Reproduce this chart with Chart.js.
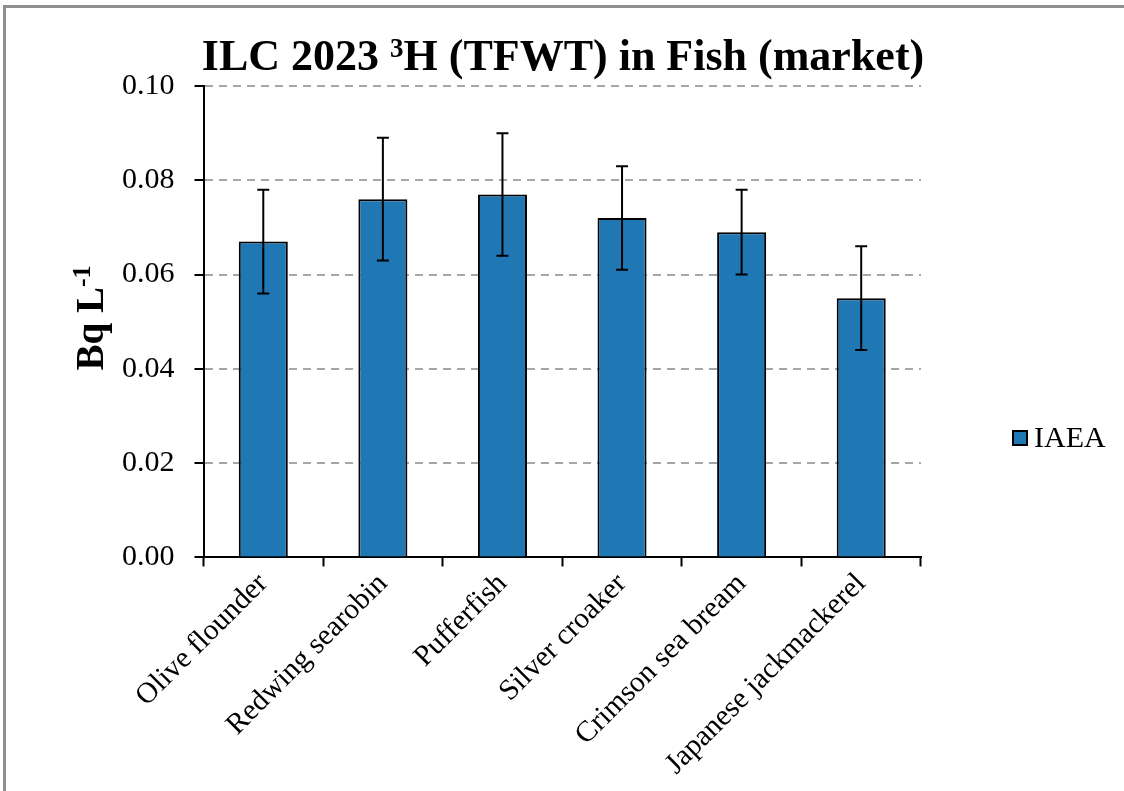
<!DOCTYPE html>
<html lang="en">
<head>
    <meta charset="UTF-8">
    <title>ILC 2023 3H (TFWT) in Fish (market)</title>
    <style>
        html, body {
            margin: 0;
            padding: 0;
            background: #fff;
            overflow: hidden;
        }
        .frame {
            position: absolute;
            left: 3px;
            top: 5px;
            width: 1200px;
            height: 900px;
            border: 3px solid #8f8f8f;
        }
        .chart-box {
            position: absolute;
            left: 0;
            top: 0;
            width: 1124px;
            height: 791px;
        }
    </style>
</head>
<body>
    <div class="frame"></div>
    <div class="chart-box">
        <canvas id="fishChart"></canvas>
    </div>
    <script src="https://cdn.jsdelivr.net/npm/chart.js"></script>
    <script>
        // data
        const categories = ['Olive flounder', 'Redwing searobin', 'Pufferfish', 'Silver croaker', 'Crimson sea bream', 'Japanese jackmackerel'];
        const iaeaValues = [0.067, 0.076, 0.077, 0.072, 0.069, 0.055];
        const iaeaErrors = [0.011, 0.013, 0.013, 0.011, 0.009, 0.011];
        const seriesName = 'IAEA';
        const yTicks = [0.00, 0.02, 0.04, 0.06, 0.08, 0.10];

        const serif = "'Liberation Serif', 'Times New Roman', serif";
        const barBlue = '#1F77B4';

        // error bars, drawn through the y scale
        const errorBars = {
            id: 'errorBars',
            afterDatasetsDraw(chart) {
                const ctx = chart.ctx;
                const yScale = chart.scales.y;
                const meta = chart.getDatasetMeta(0);
                ctx.save();
                ctx.strokeStyle = '#000';
                ctx.lineWidth = 2;
                meta.data.forEach((bar, i) => {
                    const x = bar.x;
                    const yHi = yScale.getPixelForValue(iaeaValues[i] + iaeaErrors[i]);
                    const yLo = yScale.getPixelForValue(iaeaValues[i] - iaeaErrors[i]);
                    ctx.beginPath();
                    ctx.moveTo(x, yHi);
                    ctx.lineTo(x, yLo);
                    ctx.moveTo(x - 6, yHi);
                    ctx.lineTo(x + 6, yHi);
                    ctx.moveTo(x - 6, yLo);
                    ctx.lineTo(x + 6, yLo);
                    ctx.stroke();
                });
                ctx.restore();
            }
        };

        // draws text pieces in a row, superscripts raised
        function drawPieces(ctx, pieces, startX, y) {
            let x = startX;
            pieces.forEach(p => {
                ctx.font = p.font;
                ctx.fillText(p.text, x, y - (p.rise || 0));
                x += ctx.measureText(p.text).width;
            });
        }
        function piecesWidth(ctx, pieces) {
            let w = 0;
            pieces.forEach(p => {
                ctx.font = p.font;
                w += ctx.measureText(p.text).width;
            });
            return w;
        }

        // title, y axis title with superscript, and the side legend
        const extraText = {
            id: 'extraText',
            afterDraw(chart) {
                const ctx = chart.ctx;
                const area = chart.chartArea;
                ctx.save();
                ctx.fillStyle = '#000';
                ctx.textAlign = 'left';
                ctx.textBaseline = 'alphabetic';

                // title
                const titlePieces = [
                    { text: 'ILC 2023 ', font: 'bold 44px ' + serif },
                    { text: '3', font: 'bold 27px ' + serif, rise: 13 },
                    { text: 'H (TFWT) in Fish (market)', font: 'bold 44px ' + serif }
                ];
                const tw = piecesWidth(ctx, titlePieces);
                drawPieces(ctx, titlePieces, 563 - tw / 2, 70);

                // y title
                ctx.translate(103, 318);
                ctx.rotate(-Math.PI / 2);
                const yPieces = [
                    { text: 'Bq L', font: 'bold 39px ' + serif },
                    { text: '-1', font: 'bold 26px ' + serif, rise: 13 }
                ];
                const yw = piecesWidth(ctx, yPieces);
                drawPieces(ctx, yPieces, -yw / 2, 0);
                ctx.restore();

                // legend
                ctx.save();
                const lx = area.right + 92;
                const ly = 438;
                ctx.fillStyle = barBlue;
                ctx.strokeStyle = '#000';
                ctx.lineWidth = 2;
                ctx.fillRect(lx, ly - 7, 14, 14);
                ctx.strokeRect(lx, ly - 7, 14, 14);
                ctx.fillStyle = '#000';
                ctx.font = '30px ' + serif;
                ctx.textAlign = 'left';
                ctx.textBaseline = 'middle';
                ctx.fillText(seriesName, lx + 21, ly + 1);
                ctx.restore();
            }
        };

        new Chart(document.getElementById('fishChart'), {
            type: 'bar',
            data: {
                labels: categories,
                datasets: [{
                    label: seriesName,
                    data: iaeaValues,
                    backgroundColor: barBlue,
                    borderColor: '#000',
                    borderWidth: 2,
                    categoryPercentage: 1.0,
                    barPercentage: 0.41
                }]
            },
            options: {
                responsive: true,
                maintainAspectRatio: false,
                animation: false,
                layout: {
                    padding: { left: 102, right: 203, top: 86, bottom: 9 }
                },
                plugins: {
                    legend: { display: false },
                    tooltip: { enabled: false },
                    title: { display: false }
                },
                scales: {
                    x: {
                        offset: true,
                        grid: {
                            display: true,
                            offset: true,
                            drawOnChartArea: false,
                            drawTicks: true,
                            tickLength: 9,
                            tickColor: '#000',
                            tickWidth: 2
                        },
                        border: { color: '#000', width: 2 },
                        ticks: {
                            color: '#000',
                            font: { family: serif, size: 29.5 },
                            minRotation: 45,
                            maxRotation: 45,
                            autoSkip: false,
                            padding: 0,
                            labelOffset: 0
                        }
                    },
                    y: {
                        min: 0,
                        max: 0.1,
                        afterBuildTicks(scale) {
                            scale.ticks = yTicks.map(v => ({ value: v }));
                        },
                        grid: {
                            color: '#A6A6A6',
                            lineWidth: 2,
                            drawTicks: true,
                            tickLength: 9,
                            tickColor: '#000',
                            tickWidth: 2
                        },
                        border: { color: '#000', width: 2, dash: [8, 6] },
                        ticks: {
                            color: '#000',
                            font: { family: serif, size: 30 },
                            padding: 20,
                            callback: v => Number(v).toFixed(2)
                        }
                    }
                }
            },
            plugins: [errorBars, extraText]
        });
    </script>
</body>
</html>
